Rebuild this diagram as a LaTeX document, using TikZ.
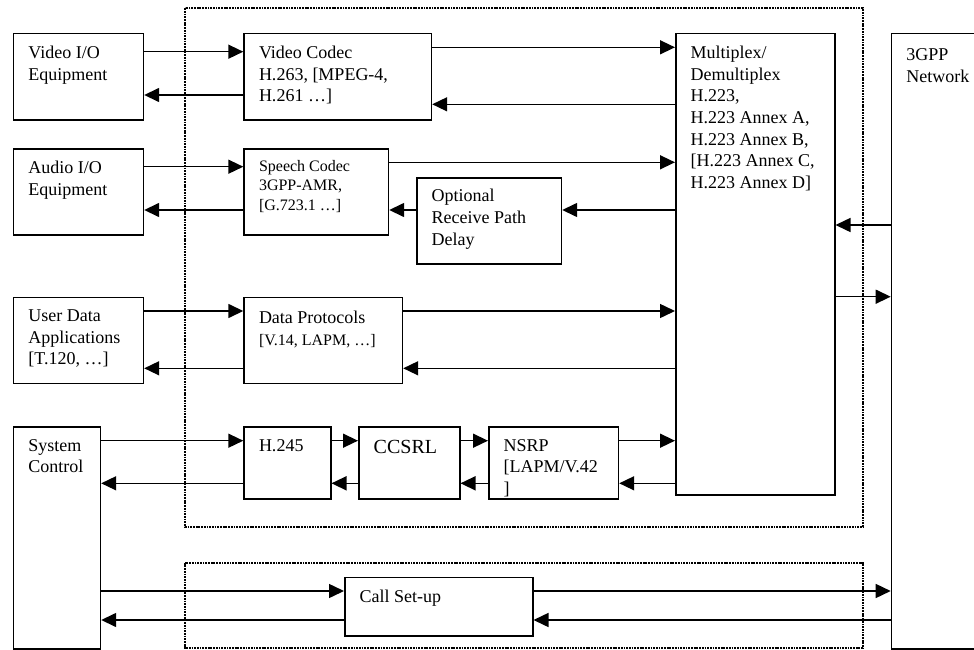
\documentclass[tikz,border=0pt]{standalone}
\usepackage{fontspec}
\setmainfont{Liberation Serif}
\usetikzlibrary{
    arrows.meta,
    positioning
}

\tikzset{
    blk/.style={draw, line width=1.5pt, inner sep=0pt, anchor=north west},
    lbl/.style={anchor=north west, align=left, inner sep=0pt,
        font=\fontsize{18}{21.7}\selectfont},
    small/.style={font=\fontsize{16}{19.3}\selectfont},
    flow/.style={-{Triangle[length=15pt,width=14pt]}, line width=1.5pt},
    grp/.style={line width=1.7pt, dash pattern=on 1.8pt off 0.9pt}
}

\begin{document}
\begin{tikzpicture}[x=1pt, y=-1pt]
    \useasboundingbox (0,0) rectangle (974,650);

    \draw[grp] (185,8.3) rectangle (862.7,526.7);
    \draw[grp] (185,562.7) rectangle (862.7,648);

    \node[blk, minimum width=130, minimum height=86.6] (vio) at (12.7,32.7) {};
    \node[blk, minimum width=130, minimum height=86] (aio) at (12.7,148.3) {};
    \node[blk, minimum width=130, minimum height=86.2] (uda) at (12.7,296.5) {};
    \node[blk, minimum width=87, minimum height=222] (sys) at (12.7,426) {};
    \node[blk, minimum width=187.4, minimum height=86.6] (vcod) at (243.3,32.7) {};
    \node[blk, minimum width=144.4, minimum height=86] (scod) at (243.3,148.3) {};
    \node[blk, minimum width=144.7, minimum height=86] (delay) at (416,177.3) {};
    \node[blk, minimum width=158.4, minimum height=86] (dprot) at (243.3,296.7) {};
    \node[blk, minimum width=86.7, minimum height=72] (hcon) at (243.3,426) {};
    \node[blk, minimum width=101, minimum height=72] (ccsrl) at (358,426) {};
    \node[blk, minimum width=129.7, minimum height=72] (nsrp) at (488,426) {};
    \node[blk, minimum width=159, minimum height=461.3] (mux) at (675,32.7) {};
    \node[blk, minimum width=83, minimum height=615.3] (net) at (890.7,32.7) {};
    \node[blk, minimum width=188, minimum height=58.3] (setup) at (344,576.7) {};

    \node[lbl] (vio-txt) at ([xshift=15.5pt,yshift=-13pt]vio.north west) {Video I/O\\Equipment};
    \node[lbl] (aio-txt) at ([xshift=15.5pt,yshift=-13pt]aio.north west) {Audio I/O\\Equipment};
    \node[lbl] (uda-txt) at ([xshift=15.5pt,yshift=-13pt]uda.north west) {User Data\\Applications\\{}[T.120, …]};
    \node[lbl] (sys-txt) at ([xshift=15.5pt,yshift=-13pt]sys.north west) {System\\Control};
    \node[lbl] (vcod-txt) at ([xshift=15.5pt,yshift=-13pt]vcod.north west) {Video Codec\\H.263, [MPEG-4,\\H.261 …]};
    \node[lbl, small] (scod-txt) at ([xshift=15.5pt,yshift=-12pt]scod.north west) {Speech Codec\\3GPP-AMR,\\{}[G.723.1 …]};
    \node[lbl] (delay-txt) at ([xshift=15.5pt,yshift=-12pt]delay.north west) {Optional\\Receive Path\\Delay};
    \node[lbl] (dprot-txt) at ([xshift=15.5pt,yshift=-14pt]dprot.north west) {Data Protocols\\{\fontsize{16}{19.3}\selectfont [V.14, LAPM, …]}};
    \node[lbl] (hcon-txt) at ([xshift=15.5pt,yshift=-13pt]hcon.north west) {H.245};
    \node[lbl, font=\fontsize{20}{24}\selectfont] (ccsrl-txt) at ([xshift=15.5pt,yshift=-14pt]ccsrl.north west) {CCSRL};
    \node[lbl] (nsrp-txt) at ([xshift=15.5pt,yshift=-13pt]nsrp.north west) {NSRP\\{}[LAPM/V.42\\{}]};
    \node[lbl] (mux-txt) at ([xshift=15.5pt,yshift=-13pt]mux.north west) {Multiplex/\\Demultiplex\\H.223,\\H.223 Annex A,\\H.223 Annex B,\\{}[H.223 Annex C,\\H.223 Annex D]};
    \node[lbl] (net-txt) at ([xshift=15.5pt,yshift=-16pt]net.north west) {3GPP\\Network};
    \node[lbl] (setup-txt) at ([xshift=15.5pt,yshift=-13pt]setup.north west) {Call Set-up};

    \foreach \a/\b/\y in {vio/vcod/51.7, vcod/mux/47.3, aio/scod/166.7, scod/mux/162.3,
        uda/dprot/311, dprot/mux/311, sys/hcon/440.7, hcon/ccsrl/440.7,
        ccsrl/nsrp/440.7, nsrp/mux/440.7, mux/net/296.7, sys/setup/591, setup/net/591}
        \draw[flow] (\a.east |- 0,\y) -- (\b.west |- 0,\y);

    \foreach \a/\b/\y in {vio/vcod/95, vcod/mux/104.3, aio/scod/210, scod/delay/210,
        delay/mux/210, uda/dprot/368.3, dprot/mux/368.3, sys/hcon/483.3,
        hcon/ccsrl/483.3, ccsrl/nsrp/483.3, nsrp/mux/483.3, mux/net/225,
        sys/setup/620, setup/net/620}
        \draw[flow] (\b.west |- 0,\y) -- (\a.east |- 0,\y);
\end{tikzpicture}
\end{document}
